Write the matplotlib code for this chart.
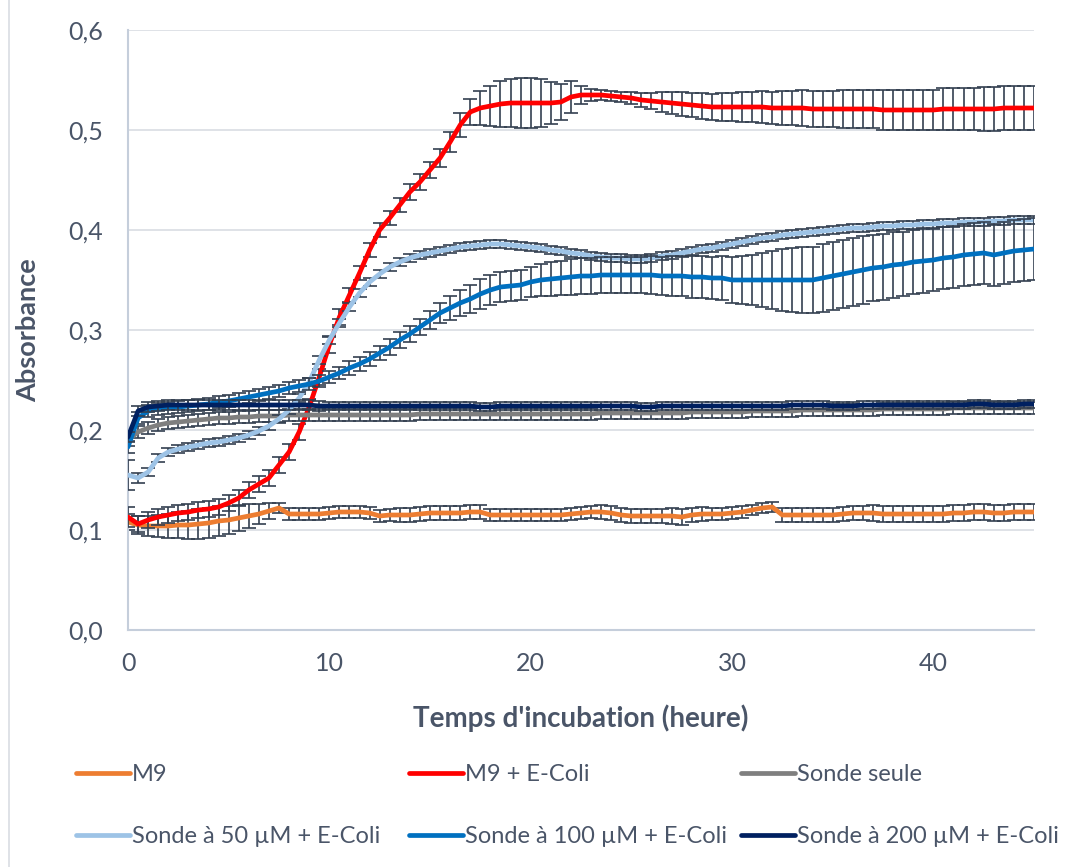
import numpy as np
import matplotlib
matplotlib.use("Agg")
import matplotlib.pyplot as plt
from matplotlib.lines import Line2D
from matplotlib.ticker import FuncFormatter, MultipleLocator

plt.rcParams['font.family'] = ['Lato', 'DejaVu Sans']

# Time step 0.5 h, 0 .. 45 h (91 points); each row = 5 hours
time_h = [i * 0.5 for i in range(91)]

m9 = [0.108, 0.105, 0.104, 0.104, 0.104, 0.105, 0.105, 0.106, 0.107, 0.109,
      0.110, 0.112, 0.114, 0.116, 0.119, 0.122, 0.116, 0.116, 0.116, 0.116,
      0.117, 0.118, 0.118, 0.118, 0.117, 0.114, 0.115, 0.115, 0.115, 0.116,
      0.117, 0.117, 0.117, 0.117, 0.118, 0.118, 0.115, 0.115, 0.115, 0.115,
      0.115, 0.115, 0.115, 0.115, 0.116, 0.117, 0.118, 0.118, 0.117, 0.115,
      0.114, 0.114, 0.114, 0.114, 0.114, 0.113, 0.115, 0.116, 0.116, 0.116,
      0.117, 0.118, 0.120, 0.122, 0.123, 0.115, 0.115, 0.115, 0.115, 0.115,
      0.115, 0.116, 0.117, 0.117, 0.117, 0.116, 0.116, 0.116, 0.116, 0.116,
      0.116, 0.116, 0.117, 0.117, 0.118, 0.118, 0.117, 0.117, 0.118, 0.118,
      0.118]
m9_err = [0.008, 0.009, 0.010, 0.011, 0.012, 0.013, 0.014, 0.015, 0.015, 0.015,
          0.014, 0.013, 0.012, 0.010, 0.008, 0.005, 0.006, 0.006, 0.006, 0.006,
          0.006, 0.006, 0.006, 0.006, 0.006, 0.006, 0.006, 0.007, 0.007, 0.007,
          0.007, 0.007, 0.007, 0.007, 0.007, 0.007, 0.006, 0.006, 0.006, 0.006,
          0.006, 0.006, 0.006, 0.006, 0.006, 0.006, 0.006, 0.007, 0.007, 0.007,
          0.007, 0.007, 0.007, 0.007, 0.008, 0.008, 0.007, 0.007, 0.006, 0.006,
          0.006, 0.006, 0.005, 0.005, 0.005, 0.007, 0.007, 0.007, 0.007, 0.007,
          0.007, 0.007, 0.007, 0.007, 0.008, 0.008, 0.008, 0.008, 0.008, 0.008,
          0.008, 0.008, 0.008, 0.008, 0.008, 0.008, 0.008, 0.008, 0.008, 0.008,
          0.008]

m9_ecoli = [0.113, 0.106, 0.110, 0.113, 0.115, 0.117, 0.118, 0.120, 0.121, 0.123,
            0.127, 0.132, 0.140, 0.146, 0.152, 0.165, 0.178, 0.198, 0.223, 0.253,
            0.285, 0.313, 0.335, 0.357, 0.380, 0.400, 0.412, 0.425, 0.438, 0.448,
            0.460, 0.472, 0.488, 0.505, 0.518, 0.522, 0.524, 0.526, 0.527, 0.527,
            0.527, 0.527, 0.527, 0.528, 0.533, 0.535, 0.535, 0.535, 0.534, 0.533,
            0.532, 0.530, 0.529, 0.528, 0.527, 0.526, 0.525, 0.524, 0.523, 0.523,
            0.523, 0.523, 0.523, 0.523, 0.522, 0.522, 0.522, 0.522, 0.521, 0.521,
            0.521, 0.521, 0.521, 0.521, 0.521, 0.520, 0.520, 0.520, 0.520, 0.520,
            0.520, 0.521, 0.521, 0.521, 0.521, 0.521, 0.521, 0.522, 0.522, 0.522,
            0.522]
m9_ecoli_err = [0.010, 0.008, 0.008, 0.008, 0.008, 0.008, 0.008, 0.008, 0.008, 0.008,
                0.008, 0.008, 0.008, 0.008, 0.008, 0.008, 0.008, 0.008, 0.008, 0.008,
                0.008, 0.008, 0.007, 0.007, 0.007, 0.007, 0.007, 0.007, 0.008, 0.008,
                0.008, 0.009, 0.010, 0.012, 0.013, 0.017, 0.020, 0.023, 0.024, 0.025,
                0.025, 0.024, 0.021, 0.018, 0.016, 0.009, 0.006, 0.005, 0.005, 0.005,
                0.006, 0.007, 0.008, 0.010, 0.011, 0.012, 0.012, 0.013, 0.013, 0.014,
                0.014, 0.015, 0.015, 0.016, 0.016, 0.017, 0.017, 0.018, 0.018, 0.018,
                0.018, 0.019, 0.019, 0.019, 0.019, 0.020, 0.020, 0.020, 0.020, 0.020,
                0.020, 0.021, 0.021, 0.021, 0.021, 0.022, 0.022, 0.022, 0.022, 0.022,
                0.022]

sonde_seule = [0.190, 0.198, 0.202, 0.205, 0.207, 0.208, 0.209, 0.210, 0.211, 0.212,
               0.212, 0.213, 0.213, 0.214, 0.214, 0.214, 0.215, 0.215, 0.215, 0.215,
               0.215, 0.215, 0.215, 0.215, 0.215, 0.215, 0.215, 0.215, 0.215, 0.216,
               0.216, 0.216, 0.216, 0.216, 0.216, 0.216, 0.216, 0.216, 0.216, 0.216,
               0.216, 0.216, 0.216, 0.216, 0.216, 0.216, 0.216, 0.217, 0.217, 0.217,
               0.217, 0.217, 0.217, 0.217, 0.217, 0.217, 0.218, 0.218, 0.218, 0.218,
               0.218, 0.218, 0.219, 0.219, 0.219, 0.219, 0.219, 0.220, 0.220, 0.220,
               0.220, 0.220, 0.220, 0.220, 0.220, 0.221, 0.221, 0.221, 0.221, 0.221,
               0.221, 0.221, 0.222, 0.222, 0.222, 0.222, 0.222, 0.222, 0.222, 0.222,
               0.222]
sonde_seule_err = [0.006, 0.006, 0.006, 0.006, 0.006, 0.006, 0.006, 0.006, 0.006, 0.006,
                   0.006, 0.006, 0.006, 0.006, 0.006, 0.006, 0.006, 0.006, 0.006, 0.006,
                   0.006, 0.006, 0.006, 0.006, 0.006, 0.006, 0.006, 0.006, 0.006, 0.006,
                   0.006, 0.006, 0.006, 0.006, 0.006, 0.006, 0.006, 0.006, 0.006, 0.006,
                   0.006, 0.006, 0.006, 0.006, 0.006, 0.006, 0.006, 0.006, 0.006, 0.006,
                   0.006, 0.006, 0.006, 0.006, 0.006, 0.006, 0.006, 0.006, 0.006, 0.006,
                   0.006, 0.006, 0.006, 0.006, 0.006, 0.006, 0.006, 0.006, 0.006, 0.006,
                   0.006, 0.006, 0.006, 0.006, 0.006, 0.006, 0.006, 0.006, 0.006, 0.006,
                   0.006, 0.006, 0.006, 0.006, 0.006, 0.006, 0.006, 0.006, 0.006, 0.006,
                   0.006]

sonde_50 = [0.155, 0.152, 0.158, 0.172, 0.178, 0.181, 0.183, 0.185, 0.187, 0.188,
            0.190, 0.192, 0.195, 0.199, 0.204, 0.211, 0.220, 0.232, 0.248, 0.270,
            0.290, 0.307, 0.323, 0.337, 0.348, 0.356, 0.363, 0.368, 0.372, 0.375,
            0.377, 0.379, 0.381, 0.383, 0.384, 0.385, 0.386, 0.386, 0.385, 0.384,
            0.383, 0.382, 0.380, 0.379, 0.377, 0.376, 0.374, 0.373, 0.372, 0.372,
            0.371, 0.371, 0.372, 0.374, 0.375, 0.377, 0.379, 0.381, 0.382, 0.384,
            0.386, 0.388, 0.390, 0.392, 0.393, 0.395, 0.396, 0.397, 0.398, 0.399,
            0.400, 0.401, 0.402, 0.402, 0.403, 0.404, 0.404, 0.405, 0.405, 0.406,
            0.406, 0.407, 0.407, 0.408, 0.408, 0.408, 0.409, 0.409, 0.410, 0.410,
            0.410]
sonde_50_err = [0.015, 0.005, 0.004, 0.004, 0.004, 0.004, 0.004, 0.004, 0.004, 0.004,
                0.004, 0.004, 0.004, 0.004, 0.004, 0.004, 0.004, 0.004, 0.004, 0.004,
                0.004, 0.004, 0.004, 0.004, 0.004, 0.004, 0.004, 0.004, 0.004, 0.004,
                0.004, 0.004, 0.004, 0.004, 0.004, 0.004, 0.004, 0.004, 0.004, 0.004,
                0.004, 0.004, 0.004, 0.004, 0.004, 0.004, 0.004, 0.004, 0.004, 0.004,
                0.004, 0.004, 0.004, 0.004, 0.004, 0.004, 0.004, 0.004, 0.004, 0.004,
                0.004, 0.004, 0.004, 0.004, 0.004, 0.004, 0.004, 0.004, 0.004, 0.004,
                0.004, 0.004, 0.004, 0.004, 0.004, 0.004, 0.004, 0.004, 0.004, 0.004,
                0.004, 0.004, 0.004, 0.004, 0.004, 0.004, 0.004, 0.004, 0.004, 0.004,
                0.004]

sonde_100 = [0.183, 0.212, 0.219, 0.221, 0.222, 0.223, 0.224, 0.225, 0.226, 0.228,
             0.229, 0.231, 0.233, 0.235, 0.237, 0.239, 0.242, 0.244, 0.246, 0.249,
             0.253, 0.257, 0.262, 0.266, 0.271, 0.277, 0.283, 0.290, 0.296, 0.303,
             0.310, 0.317, 0.322, 0.327, 0.331, 0.336, 0.340, 0.343, 0.344, 0.345,
             0.348, 0.350, 0.351, 0.352, 0.353, 0.354, 0.354, 0.355, 0.355, 0.355,
             0.355, 0.355, 0.355, 0.354, 0.354, 0.354, 0.353, 0.353, 0.352, 0.352,
             0.350, 0.350, 0.350, 0.350, 0.350, 0.350, 0.350, 0.350, 0.350, 0.352,
             0.354, 0.356, 0.358, 0.360, 0.362, 0.363, 0.365, 0.366, 0.368, 0.369,
             0.370, 0.372, 0.373, 0.375, 0.376, 0.377, 0.375, 0.377, 0.379, 0.380,
             0.381]
sonde_100_err = [0.006, 0.006, 0.006, 0.006, 0.006, 0.006, 0.006, 0.006, 0.006, 0.006,
                 0.006, 0.006, 0.006, 0.006, 0.006, 0.006, 0.006, 0.006, 0.006, 0.006,
                 0.006, 0.006, 0.007, 0.007, 0.007, 0.007, 0.008, 0.008, 0.008, 0.008,
                 0.009, 0.010, 0.012, 0.013, 0.014, 0.015, 0.015, 0.015, 0.015, 0.015,
                 0.015, 0.016, 0.017, 0.017, 0.018, 0.018, 0.018, 0.018, 0.018, 0.018,
                 0.018, 0.018, 0.019, 0.019, 0.020, 0.020, 0.021, 0.021, 0.021, 0.022,
                 0.023, 0.024, 0.025, 0.027, 0.029, 0.031, 0.032, 0.033, 0.033, 0.034,
                 0.034, 0.034, 0.034, 0.034, 0.033, 0.033, 0.033, 0.032, 0.032, 0.032,
                 0.031, 0.031, 0.031, 0.031, 0.031, 0.031, 0.031, 0.031, 0.031, 0.031,
                 0.031]

sonde_200 = [0.193, 0.219, 0.223, 0.224, 0.225, 0.225, 0.225, 0.225, 0.225, 0.225,
             0.225, 0.225, 0.225, 0.225, 0.225, 0.225, 0.225, 0.225, 0.225, 0.224,
             0.224, 0.224, 0.224, 0.224, 0.224, 0.224, 0.224, 0.224, 0.224, 0.224,
             0.224, 0.224, 0.224, 0.224, 0.224, 0.223, 0.223, 0.224, 0.224, 0.224,
             0.224, 0.224, 0.224, 0.224, 0.224, 0.224, 0.224, 0.224, 0.224, 0.224,
             0.224, 0.223, 0.223, 0.224, 0.224, 0.224, 0.224, 0.224, 0.224, 0.224,
             0.224, 0.224, 0.224, 0.224, 0.224, 0.224, 0.225, 0.225, 0.225, 0.225,
             0.224, 0.224, 0.224, 0.225, 0.225, 0.225, 0.225, 0.225, 0.225, 0.225,
             0.225, 0.225, 0.225, 0.225, 0.226, 0.226, 0.225, 0.225, 0.225, 0.226,
             0.226]
sonde_200_err = [0.005, 0.005, 0.005, 0.005, 0.005, 0.005, 0.005, 0.005, 0.005, 0.005,
                 0.005, 0.005, 0.005, 0.005, 0.005, 0.005, 0.005, 0.005, 0.005, 0.005,
                 0.004, 0.004, 0.004, 0.004, 0.004, 0.004, 0.004, 0.004, 0.004, 0.004,
                 0.004, 0.004, 0.004, 0.004, 0.004, 0.004, 0.004, 0.004, 0.004, 0.004,
                 0.004, 0.004, 0.004, 0.004, 0.004, 0.004, 0.004, 0.004, 0.004, 0.004,
                 0.004, 0.004, 0.004, 0.004, 0.004, 0.004, 0.004, 0.004, 0.004, 0.004,
                 0.004, 0.004, 0.004, 0.004, 0.004, 0.004, 0.004, 0.004, 0.004, 0.004,
                 0.004, 0.004, 0.004, 0.004, 0.004, 0.004, 0.004, 0.004, 0.004, 0.004,
                 0.004, 0.004, 0.004, 0.004, 0.004, 0.004, 0.004, 0.004, 0.004, 0.004,
                 0.004]

labels = ["M9", "M9 + E-Coli", "Sonde seule",
          "Sonde à 50 µM + E-Coli", "Sonde à 100 µM + E-Coli", "Sonde à 200 µM + E-Coli"]
series = [m9, m9_ecoli, sonde_seule, sonde_50, sonde_100, sonde_200]
errors = [m9_err, m9_ecoli_err, sonde_seule_err, sonde_50_err, sonde_100_err, sonde_200_err]
colors = ["#ED7D31", "#FF0000", "#7F7F7F", "#9DC3E6", "#0070C0", "#002060"]

text_col = "#4a5568"
err_col = "#333f50"

fig = plt.figure(figsize=(10.75, 8.67), dpi=100)
ax = fig.add_axes([128 / 1075, 1 - 630 / 867, (1034 - 128) / 1075, 600 / 867])

for i, (y, e, c, lab) in enumerate(zip(series, errors, colors, labels)):
    ax.errorbar(time_h, y, yerr=e, fmt='none', ecolor=err_col, elinewidth=1.2,
                capsize=5.0, capthick=1.2, zorder=2 + 2 * i)
    ax.plot(time_h, y, color=c, lw=3.4, solid_capstyle='round', zorder=3 + 2 * i, label=lab)

ax.set_xlim(0, 45)
ax.set_ylim(0, 0.6)
ax.yaxis.set_major_locator(MultipleLocator(0.1))
ax.xaxis.set_major_locator(MultipleLocator(10))
ax.yaxis.set_major_formatter(FuncFormatter(lambda v, p: f"{v:.1f}".replace('.', ',')))
ax.grid(axis='y', color='#d9dde3', lw=1.2)
ax.set_axisbelow(True)
for s in ['top', 'right']:
    ax.spines[s].set_visible(False)
for s in ['left', 'bottom']:
    ax.spines[s].set_color('#c5cedb')
    ax.spines[s].set_linewidth(1.5)
ax.tick_params(length=0, labelsize=18, colors=text_col)
ax.tick_params(axis='y', pad=18)
ax.tick_params(axis='x', pad=16)

ax.set_ylabel("Absorbance", fontsize=19.5, fontweight='bold', color=text_col, labelpad=20)
ax.set_xlabel("Temps d'incubation (heure)", fontsize=20, fontweight='bold', color=text_col, labelpad=21)

# Legend: three columns with two rows
handles = [Line2D([0], [0], color=c, lw=3.4, solid_capstyle='round') for c in colors]
col_x = [75 / 1075, 408 / 1075, 740 / 1075]
for k in range(3):
    idx = [k, k + 3]
    fig.legend([handles[j] for j in idx], [labels[j] for j in idx],
               loc='upper left', bbox_to_anchor=(col_x[k] - 0.006, 1 - 757 / 867),
               frameon=False, fontsize=17, handlelength=2.3, handletextpad=0.08,
               labelspacing=1.75, labelcolor=text_col, borderaxespad=0, borderpad=0.3)

fig.add_artist(Line2D([0.008, 0.008], [0, 1], color='#d9dde3', lw=1.2))

fig.savefig("out.png", dpi=100)
